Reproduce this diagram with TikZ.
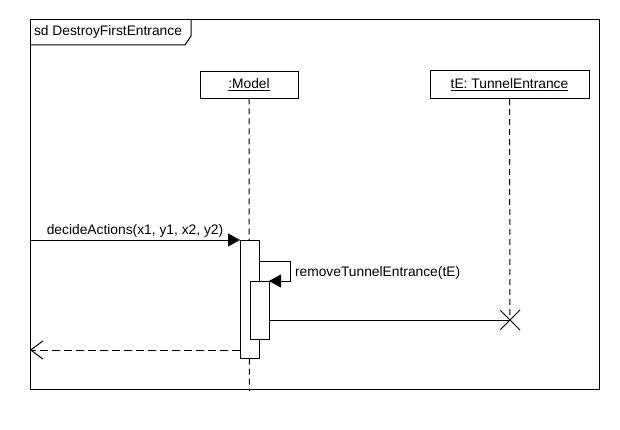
\documentclass[tikz,border=0pt]{standalone}
\usepackage{fontspec}
\setmainfont{Liberation Sans}
\usetikzlibrary{arrows.meta}
\begin{document}
\begin{tikzpicture}[x=1pt,y=-1pt,line width=1pt,
  font=\fontsize{13.8}{16}\selectfont,
  lifebox/.style={draw,fill=white,inner sep=0pt,outer sep=0pt},
  actbox/.style={draw,fill=white,inner sep=0pt,outer sep=0pt,minimum width=19},
  lifeline/.style={dash pattern=on 6pt off 4pt},
  retline/.style={dash pattern=on 8pt off 4pt},
  syncarrow/.style={-{Triangle[length=12pt,width=13pt]}},
  openarrow/.style={-{Straight Barb[length=12pt,width=18pt,line width=1pt]}},
  lbl/.style={inner sep=0pt,outer sep=0pt}]
\useasboundingbox (0,0) rectangle (620,430);
% frame
\draw (30,20) rectangle (599,389);
\draw (30,45) -- (185,45) -- (191,36) -- (191,20);
\node[lbl,anchor=west] (title) at (34,32) {sd DestroyFirstEntrance};
% lifeline heads
\node[lifebox,minimum width=98,minimum height=27] (model) at (249,85) {\underline{:Model}};
\node[lifebox,minimum width=159,minimum height=28] (te) at (509.5,85) {\underline{tE: TunnelEntrance}};
\coordinate (modelend) at (249.5,391);
\coordinate (x) at (510,320);
\draw[lifeline] (model.south) -- (modelend);
\draw[lifeline] (te.south) -- (x);
% activations
\node[actbox,minimum height=118] (act1) at (249.5,299) {};
\node[actbox,minimum height=58] (act2) at (259.5,310) {};
% messages
\coordinate (in) at (30,240);
\draw[syncarrow] (in) -- (act1.north west);
\node[lbl] (m1) at (135,231) {decideActions(x1, y1, x2, y2)};
\draw[syncarrow] ([yshift=-21pt]act1.north east) -- ++(31,0) |- (act2.north east);
\node[lbl,anchor=west] (m2) at (295,273) {removeTunnelEntrance(tE)};
\draw (act2.east |- x) -- (x);
\draw (x) +(-10,-10) -- +(10,10) (x) +(-10,10) -- +(10,-10);
\coordinate (out) at (30,350);
\draw[retline,openarrow] (act1.west |- out) -- (out);
\end{tikzpicture}
\end{document}
